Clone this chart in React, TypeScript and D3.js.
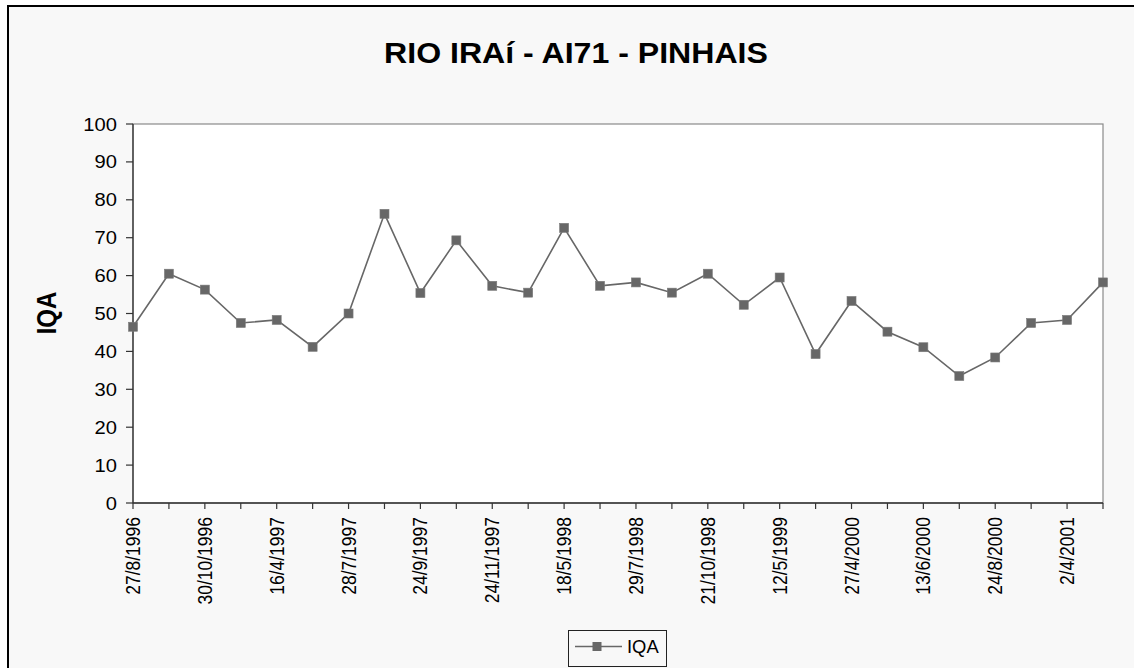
import React from "react";
import * as d3 from "d3";

// IQA series, one value per sampling campaign
const iqaValues: number[] = [
  46.5, 60.5, 56.3, 47.5, 48.3, 41.2, 50.0, 76.3, 55.4, 69.3, 57.3, 55.5, 72.6, 57.3,
  58.2, 55.5, 60.5, 52.3, 59.5, 39.3, 53.3, 45.2, 41.1, 33.5, 38.4, 47.5, 48.3, 58.2,
];

// Dates printed under every other sample
const dateLabels: string[] = [
  "27/8/1996", "30/10/1996", "16/4/1997", "28/7/1997", "24/9/1997", "24/11/1997",
  "18/5/1998", "29/7/1998", "21/10/1998", "12/5/1999", "27/4/2000", "13/6/2000",
  "24/8/2000", "2/4/2001",
];

const yTicks: number[] = [0, 10, 20, 30, 40, 50, 60, 70, 80, 90, 100];

const title = "RIO IRAí - AI71 - PINHAIS";
const yTitle = "IQA";
const seriesName = "IQA";

const W = 1134;
const H = 668;
const plot = { left: 133, right: 1103, top: 124, bottom: 503 };
const FONT = "'Liberation Sans', Arial, Helvetica, sans-serif";
const SERIES_COLOR = "#676767";

export default function App() {
  const x = d3
    .scalePoint<number>()
    .domain(d3.range(iqaValues.length))
    .range([plot.left, plot.right]);
  const y = d3.scaleLinear().domain([0, 100]).range([plot.bottom, plot.top]);

  const line = d3
    .line<number>()
    .x((_, i) => x(i)!)
    .y((d) => y(d));

  const ms = 9;

  return (
    <svg
      width={W}
      height={H}
      style={{ position: "absolute", left: 0, top: 0, display: "block" }}
      fontFamily={FONT}
    >
      <rect x={0} y={0} width={W} height={H} fill="#ffffff" />
      <rect x={8} y={6} width={W} height={H} fill="#f8f8f8" />
      <line x1={8} y1={5} x2={8} y2={H} stroke="#000" strokeWidth={2} />
      <line x1={7} y1={6} x2={W} y2={6} stroke="#000" strokeWidth={2} />

      {/* title */}
      <text
        transform={`translate(${576},${63}) scale(1.07,1)`}
        textAnchor="middle"
        fontSize={30}
        fontWeight="bold"
        fill="#000"
      >
        {title}
      </text>

      {/* plot area */}
      <rect
        x={plot.left}
        y={plot.top}
        width={plot.right - plot.left}
        height={plot.bottom - plot.top}
        fill="#ffffff"
        stroke="#8a8a8a"
        strokeWidth={1.2}
      />

      {/* y axis */}
      <line x1={plot.left} y1={plot.top} x2={plot.left} y2={plot.bottom} stroke="#333" strokeWidth={1.3} />
      {yTicks.map((t) => (
        <g key={t}>
          <line x1={plot.left - 7} x2={plot.left} y1={y(t)} y2={y(t)} stroke="#333" strokeWidth={1.2} />
          <text
            transform={`translate(${117},${y(t) + 6.5}) scale(1.12,1)`}
            textAnchor="end"
            fontSize={18}
            fill="#000"
          >
            {t}
          </text>
        </g>
      ))}
      <text
        transform={`translate(${56},${313}) scale(1.12,1) rotate(-90)`}
        textAnchor="middle"
        fontSize={24}
        fontWeight="bold"
        fill="#000"
      >
        {yTitle}
      </text>

      {/* x axis */}
      <line x1={plot.left} y1={plot.bottom} x2={plot.right} y2={plot.bottom} stroke="#333" strokeWidth={1.3} />
      {iqaValues.map((_, i) => (
        <line key={i} x1={x(i)} x2={x(i)} y1={plot.bottom} y2={plot.bottom + 6} stroke="#333" strokeWidth={1.2} />
      ))}
      {dateLabels.map((lab, k) => {
        const i = k * 2;
        return (
          <text
            key={lab}
            transform={`translate(${x(i)! + 7},${517}) scale(1.2,1) rotate(-90)`}
            textAnchor="end"
            fontSize={17.5}
            fill="#000"
          >
            {lab}
          </text>
        );
      })}

      {/* series */}
      <path d={line(iqaValues) ?? ""} fill="none" stroke={SERIES_COLOR} strokeWidth={1.6} />
      {iqaValues.map((v, i) => (
        <rect
          key={i}
          x={x(i)! - ms / 2}
          y={y(v) - ms / 2}
          width={ms}
          height={ms}
          fill={SERIES_COLOR}
          stroke="#7a7a7a"
          strokeWidth={0.6}
        />
      ))}

      {/* legend */}
      <rect x={568.5} y={630.5} width={98} height={36} fill="#f8f8f8" stroke="#222" strokeWidth={1} />
      <line x1={575} x2={622} y1={646.5} y2={646.5} stroke={SERIES_COLOR} strokeWidth={1.6} />
      <rect x={597 - ms / 2} y={646.5 - ms / 2} width={ms} height={ms} fill={SERIES_COLOR} />
      <text transform="translate(627,653) scale(1.05,1)" fontSize={17.5} fill="#000">
        {seriesName}
      </text>
    </svg>
  );
}
